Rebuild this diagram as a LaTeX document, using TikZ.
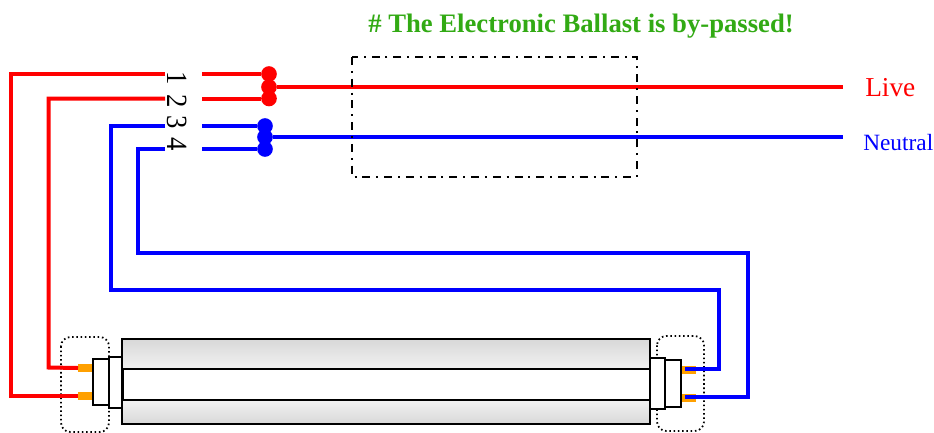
\documentclass[tikz,border=0pt]{standalone}
\usepackage{fontspec}
\setmainfont{Liberation Serif}
\definecolor{pinor}{RGB}{255,160,0}
\definecolor{wgreen}{RGB}{50,170,20}
\definecolor{tubeg}{RGB}{216,216,216}
\definecolor{tubel}{RGB}{242,242,242}
\tikzset{
  capbox/.style={draw=black,line width=1.5pt,fill=white,inner sep=0pt,outer sep=0pt,anchor=north west},
  pin/.style={fill=pinor,draw=none,inner sep=0pt,outer sep=0pt,minimum width=10.5pt,minimum height=6pt},
  redwire/.style={draw=red,line width=3pt,line join=miter},
  bluewire/.style={draw=blue,line width=3pt,line join=miter},
  dotred/.style={circle,fill=red,inner sep=0pt,minimum size=11.75pt},
  dotblue/.style={circle,fill=blue,inner sep=0pt,minimum size=11.75pt},
  digit/.style={rotate=-90,inner sep=0pt,font=\fontsize{20}{20}\selectfont},
  dotted box/.style={draw=black,line width=1.3pt,dash pattern=on 1.2pt off 2pt,rounded corners=7pt},
}
\begin{document}
\begin{tikzpicture}[x=0.75pt,y=-0.75pt]
\useasboundingbox (0,0) rectangle (934,432);
% dotted holders
\draw[dotted box] (61,337) rectangle (109,432);
\draw[dotted box] (657,336) rectangle (704,431);
% tube
\shade[top color=tubeg,bottom color=tubel] (122,339) rectangle (650,369);
\shade[top color=tubel,bottom color=tubeg] (122,400) rectangle (650,424);
\draw[black,line width=1.5pt] (122,339) rectangle (650,424);
\node[draw=black,line width=1.5pt,inner sep=0pt,outer sep=0pt,minimum width=396.75pt,minimum height=23.25pt,anchor=north west] (tube) at (122.5,369) {};
% end caps
\node[capbox,minimum width=9.75pt,minimum height=38.25pt] (capLa) at (109,357) {};
\node[capbox,minimum width=12pt,minimum height=34.5pt] (capLb) at (93,359) {};
\node[capbox,minimum width=11.25pt,minimum height=38.25pt] (capRa) at (650,358) {};
\node[capbox,minimum width=12pt,minimum height=35.25pt] (capRb) at (665,360) {};
% pins
\node[pin] (pinL1) at (85,368) {};
\node[pin] (pinL2) at (85,395.5) {};
\node[pin] (pinR1) at (688.5,370) {};
\node[pin] (pinR2) at (688.5,397.5) {};
% digits
\node[digit] (n1) at (177,78) {\scalebox{1}[1.1]{1}};
\node[digit] (n2) at (177,101) {\scalebox{1}[1.1]{2}};
\node[digit] (n3) at (177,122) {\scalebox{1}[1.1]{3}};
\node[digit] (n4) at (177,144) {\scalebox{1}[1.1]{4}};
% terminals
\coordinate (a1) at (165,74);
\coordinate (a2) at (165,98.5);
\coordinate (a3) at (165,126);
\coordinate (a4) at (165,149);
\coordinate (b1) at (202,74);
\coordinate (b2) at (202,98.5);
\coordinate (b3) at (202,126);
\coordinate (b4) at (202,149);
\node[dotred] (r1) at (269,74) {};
\node[dotred] (r2) at (269,87) {};
\node[dotred] (r3) at (269,98.5) {};
\node[dotblue] (u1) at (265,126) {};
\node[dotblue] (u2) at (265,137) {};
\node[dotblue] (u3) at (265,149) {};
% text
\node[anchor=west,inner sep=0pt,text=red,font=\fontsize{20.5}{20.5}\selectfont] (live) at (865,88) {Live};
\node[anchor=west,inner sep=0pt,text=blue,font=\fontsize{17.5}{17.5}\selectfont] (neutral) at (863,143) {Neutral};
\node[anchor=west,inner sep=0pt,text=wgreen,font=\fontsize{20}{20}\selectfont\bfseries] (title) at (368,26) {\# The Electronic Ballast is by-passed!};
\coordinate (liveEnd) at (843,87);
\coordinate (neutralEnd) at (843,137);
% wires
\draw[redwire] (a1) -- (11,74) -- (11,395.5) -- (pinL2.west);
\draw[redwire] (a2) -- (48.5,98.5) -- (48.5,367.5) -- (pinL1.west);
\draw[bluewire] (a3) -- (110.5,126) -- (110.5,290) -- (719,290) -- (719,369) -- (685,369);
\draw[bluewire] (a4) -- (138,149) -- (138,253) -- (748,253) -- (748,396.5) -- (685,396.5);
\draw[redwire] (b1) -- (r1);
\draw[redwire] (b2) -- (r3);
\draw[bluewire] (b3) -- (u1);
\draw[bluewire] (b4) -- (u3);
\draw[redwire] (r2) -- (liveEnd);
\draw[bluewire] (u2) -- (neutralEnd);
% ballast
\draw[black,line width=1.4pt,dash pattern=on 6pt off 4.4pt on 1.5pt off 4.4pt] (352,57) rectangle (637,177);
\end{tikzpicture}
\end{document}
